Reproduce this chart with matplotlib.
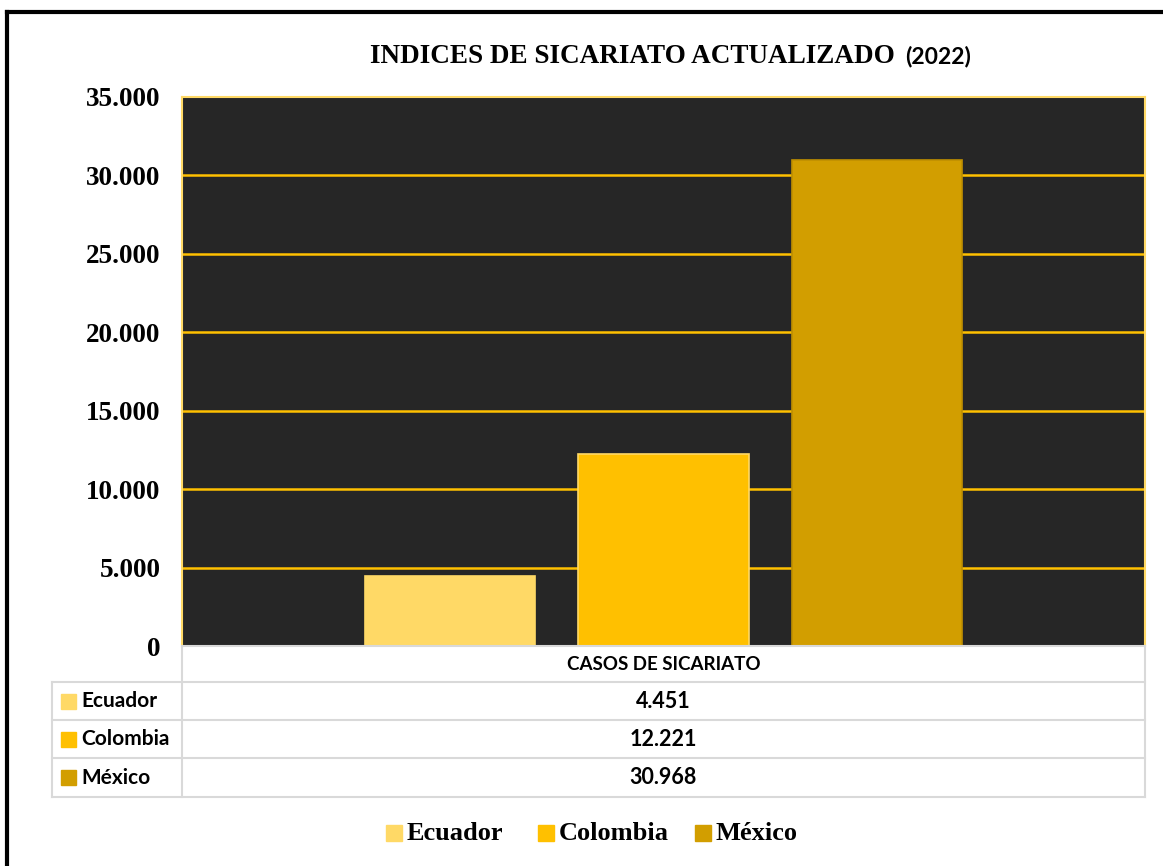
import matplotlib.pyplot as plt
import numpy as np

# datos
paises = ['Ecuador', 'Colombia', 'México']
casos = [4451, 12221, 30968]
colores = ['#FFD966', '#FFC000', '#D29E00']
bordes = ['#FFD966', '#FFD966', '#BF8F00']
yticks = [0, 5000, 10000, 15000, 20000, 25000, 30000, 35000]
titulo = 'INDICES DE SICARIATO ACTUALIZADO'
anio = '(2022)'
categoria = 'CASOS DE SICARIATO'

SERIF = 'Liberation Serif'
SANS = 'Lato'
W, H = 1163, 866


def fmt(v):
    return f'{v:,}'.replace(',', '.')


fig = plt.figure(figsize=(W / 100, H / 100), dpi=100)
fig.patch.set_facecolor('white')

# ejes del grafico (en pixeles de la figura)
x0, x1, y0, y1 = 182, 1145, 97, 646
ax = fig.add_axes([x0 / W, (H - y1) / H, (x1 - x0) / W, (y1 - y0) / H])
ax.set_facecolor('#262626')
ax.set_ylim(0, 35000)
ax.set_xlim(-1.255, 3.255)
for v in yticks[1:-1]:
    ax.axhline(v, color='#FFC000', lw=1.8, zorder=1)
ax.bar(range(len(casos)), casos, width=0.80, color=colores, edgecolor=bordes,
       linewidth=1.2, zorder=2)
ax.set_xticks([])
ax.set_yticks(yticks)
ax.set_yticklabels([fmt(v) for v in yticks], fontfamily=SERIF,
                   fontweight='bold', fontsize=19.5)
ax.tick_params(axis='y', length=0, pad=15.5)
for s in ['top', 'right', 'left']:
    ax.spines[s].set_color('#FFD966')
    ax.spines[s].set_linewidth(1.5)
ax.spines['bottom'].set_color('#D9D9D9')
ax.spines['bottom'].set_linewidth(1.5)

# capa de pixeles para tabla, titulo y leyenda
ov = fig.add_axes([0, 0, 1, 1], zorder=3)
ov.set_xlim(0, W)
ov.set_ylim(H, 0)
ov.axis('off')

# marco negro
ov.plot([7, 7], [H, 12], color='black', lw=3)
ov.plot([7, W], [12, 12], color='black', lw=3)

# titulo
ov.text(370, 63, titulo, fontfamily=SERIF, fontweight='bold', fontsize=19.5,
        ha='left', va='baseline')
ov.text(905, 63, anio, fontfamily=SANS, fontweight='bold', fontsize=16.5,
        ha='left', va='baseline')

# tabla de datos
gris = '#D9D9D9'
filas = [646, 682, 720, 758, 797]
ov.plot([x0, x0], [646, 797], color=gris, lw=1.5)
ov.plot([x1, x1], [646, 797], color=gris, lw=1.5)
ov.plot([52, 52], [682, 797], color=gris, lw=1.5)
for yy in filas[1:]:
    ov.plot([52, x1], [yy, yy], color=gris, lw=1.5)
xc = (x0 + x1) / 2
ov.text(xc, 664, categoria, fontfamily=SANS, fontweight='bold', fontsize=13.5,
        ha='center', va='center')
for i, (p, v, c) in enumerate(zip(paises, casos, colores)):
    yc = (filas[i + 1] + filas[i + 2]) / 2
    ov.add_patch(plt.Rectangle((61, yc - 7.5), 15, 15, color=c))
    ov.text(81, yc, p, fontfamily=SANS, fontweight='bold', fontsize=15,
            ha='left', va='center')
    ov.text(xc, yc, fmt(v), fontfamily=SANS, fontweight='bold', fontsize=15.5,
            ha='center', va='center')

# leyenda
leg_x = [386, 538, 695]
for lx, p, c in zip(leg_x, paises, colores):
    ov.add_patch(plt.Rectangle((lx, 825), 16, 16, color=c))
    ov.text(lx + 21, 833, p, fontfamily=SERIF, fontweight='bold', fontsize=19,
            ha='left', va='center')

fig.savefig('out.png', dpi=100)
